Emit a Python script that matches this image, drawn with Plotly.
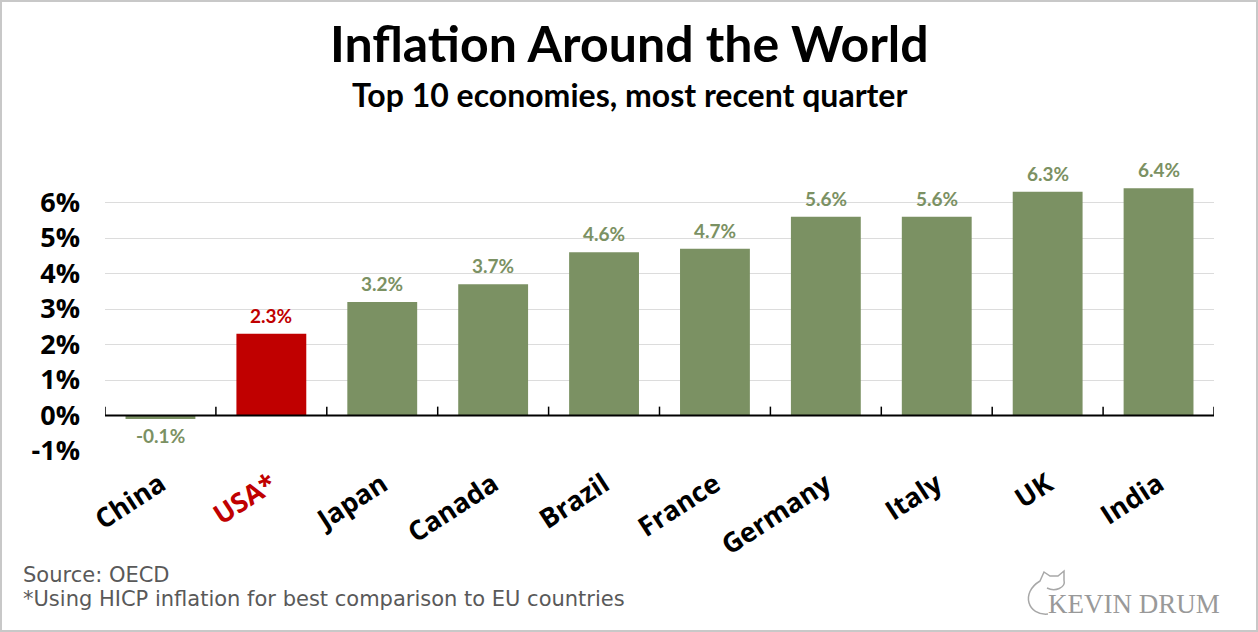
import plotly.graph_objects as go

countries = ["China", "USA", "Japan", "Canada", "Brazil", "France", "Germany", "Italy", "UK", "India"]
tick_labels = ["China", "<span style='color:#C00000'>USA*</span>", "Japan", "Canada", "Brazil",
               "France", "Germany", "Italy", "UK", "India"]
inflation = [-0.1, 2.3, 3.2, 3.7, 4.6, 4.7, 5.6, 5.6, 6.3, 6.4]
bar_colors = ["#7B9163", "#C00000", "#7B9163", "#7B9163", "#7B9163",
              "#7B9163", "#7B9163", "#7B9163", "#7B9163", "#7B9163"]
y_ticks = [-1, 0, 1, 2, 3, 4, 5, 6]
y_tick_text = ["-1%", "0%", "1%", "2%", "3%", "4%", "5%", "6%"]

W, H = 1258, 632
ML, MR, MT, MB = 105, 44, 167, 181
pw, ph = W - ML - MR, H - MT - MB


def px(x):
    return (x - ML) / pw


def py(y):
    return (H - MB - y) / ph


fig = go.Figure(go.Bar(
    x=countries, y=inflation,
    marker=dict(color=bar_colors, line=dict(width=0)),
    width=0.63,
    hoverinfo="x+y",
))

shapes = []
# zero axis line
shapes.append(dict(type="line", xref="paper", yref="y", x0=0, x1=1, y0=0, y1=0,
                   line=dict(color="black", width=2)))
# category boundary tick marks
for i in range(len(countries) + 1):
    shapes.append(dict(type="line", xref="x", yref="y", x0=i - 0.5, x1=i - 0.5, y0=0, y1=0.25,
                       line=dict(color="black", width=1.5)))
# outer border
shapes.append(dict(type="rect", xref="paper", yref="paper",
                   x0=px(1), x1=px(W - 1), y0=py(H - 1), y1=py(1),
                   line=dict(color="#C8C8C8", width=2), fillcolor="rgba(0,0,0,0)", layer="below"))
# cat outline for watermark (decorative)
cat_path = (f"M {px(1048)},{py(614)} C {px(1028)},{py(616)} {px(1020)},{py(593)} {px(1040)},{py(581)} "
            f"L {px(1044)},{py(572)} L {px(1050)},{py(576)} L {px(1058)},{py(576)} L {px(1064)},{py(571)} "
            f"L {px(1064)},{py(580)} C {px(1066)},{py(588)} {px(1055)},{py(592)} {px(1047)},{py(588)}")
shapes.append(dict(type="path", xref="paper", yref="paper", path=cat_path,
                   line=dict(color="#A8A8A8", width=1.5)))


def txt(text, x, y_top, size, family, color, xanchor="left"):
    return dict(text=text, xref="paper", yref="paper", x=px(x), y=py(y_top),
                xanchor=xanchor, yanchor="top", showarrow=False, align="left",
                borderpad=0, borderwidth=0,
                font=dict(family=family, size=size, color=color))


annotations = [
    txt("<b>Inflation Around the World</b>", W / 2, 13.2, 50, "Lato", "black", "center"),
    txt("<b>Top 10 economies, most recent quarter</b>", W / 2, 74.6, 32, "Lato", "black", "center"),
    txt("Source: OECD", 23, 562.5, 21, "DejaVu Sans", "#595959"),
    txt("*Using HICP inflation for best comparison to EU countries", 23, 587, 21,
        "DejaVu Sans", "#595959"),
    txt("KEVIN DRUM", 1220, 589, 27, "Liberation Serif", "#999999", "right"),
]
for c, v, col in zip(countries, inflation, bar_colors):
    annotations.append(dict(
        x=c, y=v, xref="x", yref="y", text=f"<b>{v:.1f}%</b>", showarrow=False,
        yanchor="bottom" if v >= 0 else "top", yshift=5 if v >= 0 else -3,
        font=dict(family="Lato", size=19, color=col),
    ))

fig.update_layout(
    width=W, height=H,
    margin=dict(l=ML, r=MR, t=MT, b=MB),
    paper_bgcolor="white", plot_bgcolor="white",
    showlegend=False,
    shapes=shapes,
    annotations=annotations,
    xaxis=dict(
        tickmode="array", tickvals=countries, ticktext=tick_labels,
        tickangle=-33,
        tickfont=dict(family="Open Sans", size=27, color="black", weight="bold"),
        ticks="outside", ticklen=6, tickcolor="rgba(0,0,0,0)",
        showgrid=False, showline=False, zeroline=False,
        range=[-0.5, 9.5],
    ),
    yaxis=dict(
        range=[-1, 7],
        tickvals=y_ticks, ticktext=y_tick_text,
        tickfont=dict(family="Open Sans", size=27, color="black", weight="bold"),
        showgrid=True, gridcolor="#DCDCDC", gridwidth=1,
        zeroline=False, showline=False,
        ticklabelstandoff=24,
    ),
)

fig.write_html("out.html", config={"displayModeBar": False},
               post_script="document.body.style.margin='0';document.body.style.padding='0';")
